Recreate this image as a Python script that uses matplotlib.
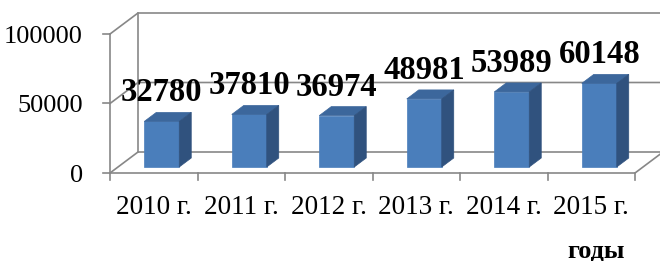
import matplotlib
matplotlib.use("Agg")
import matplotlib.pyplot as plt
from matplotlib.patches import Polygon, Rectangle

# dane
years = ['2010 г.', '2011 г.', '2012 г.', '2013 г.', '2014 г.', '2015 г.']
values = [32780, 37810, 36974, 48981, 53989, 60148]
y_ticks = [0, 50000, 100000]
y_tick_labels = ['0', '50000', '100000']
x_title = 'годы'

plt.rcParams['font.family'] = ['Liberation Serif', 'DejaVu Serif']

W, H = 660, 261
fig = plt.figure(figsize=(W / 100, H / 100), dpi=100)
ax = fig.add_axes([0, 0, 1, 1])
ax.axis('off')

n = len(years)
# przednia plaszczyzna: x=0 -> 110 px, x=n -> 635 px; y=0 -> 173 px od gory, 100000 -> 34 px
x0_px, xn_px = 110, 635
y0_px, ytop_px = 173, 34
kx = n / (xn_px - x0_px)
ky = y_ticks[-1] / (y0_px - ytop_px)
ax.set_xlim(-x0_px * kx, (W - x0_px) * kx)
ax.set_ylim(-(H - y0_px) * ky, y0_px * ky)

# glebokosc "3D"
DX, DY = 28 * kx, 21 * ky
grid_c = '#878787'
lw = 1.2

# sciany i linie siatki
ax.plot([DX, DX], [DY, y_ticks[-1] + DY], color=grid_c, lw=lw, zorder=1)
for t in y_ticks:
    ax.plot([0, DX, n + DX], [t, t + DY, t + DY], color=grid_c, lw=lw, zorder=1)
    ax.plot([-7 * kx, 0], [t, t], color=grid_c, lw=lw, zorder=1)
ax.plot([0, 0], [0, y_ticks[-1]], color=grid_c, lw=lw, zorder=1)
ax.plot([0, n, n + DX], [0, 0, DY], color=grid_c, lw=lw, zorder=1)
for i in range(n + 1):
    ax.plot([i, i], [0, -7 * ky], color=grid_c, lw=lw, zorder=1)

# slupki
f0, f1 = 6 / 21, 15 / 21
bw = 35 * kx
ddx, ddy = (f1 - f0) * DX, (f1 - f0) * DY
front_c, top_c, side_c = '#4A7EBB', '#3C679C', '#30527E'
for i, v in enumerate(values):
    cx = i + 0.5 + f0 * DX
    xl, xr = cx - bw / 2, cx + bw / 2
    yb = f0 * DY
    yt = yb + v
    ax.add_patch(Rectangle((xl, yb), bw, v, facecolor=front_c, edgecolor=front_c, lw=0.5, zorder=2))
    ax.add_patch(Polygon([(xl, yt), (xr, yt), (xr + ddx, yt + ddy), (xl + ddx, yt + ddy)],
                         facecolor=top_c, edgecolor=top_c, lw=0.5, zorder=2))
    ax.add_patch(Polygon([(xr, yb), (xr + ddx, yb + ddy), (xr + ddx, yt + ddy), (xr, yt)],
                         facecolor=side_c, edgecolor=side_c, lw=0.5, zorder=2))
    ax.annotate(f'{v}', (cx, yt), xytext=(0, 20), textcoords='offset pixels',
                ha='center', va='baseline', fontsize=23.5, fontweight='bold', zorder=3)

# podpisy osi
for i, lab in enumerate(years):
    ax.annotate(lab, (i + 0.5, 0), xytext=(0, -41), textcoords='offset pixels',
                ha='center', va='baseline', fontsize=19.5)
for t, lab in zip(y_ticks, y_tick_labels):
    ax.annotate(lab, (0, t), xytext=(-27, -9), textcoords='offset pixels',
                ha='right', va='baseline', fontsize=19)

fig.text(625 / W, 4 / H, x_title, ha='right', va='baseline', fontsize=19, fontweight='bold')

fig.savefig('out.png', dpi=100)
